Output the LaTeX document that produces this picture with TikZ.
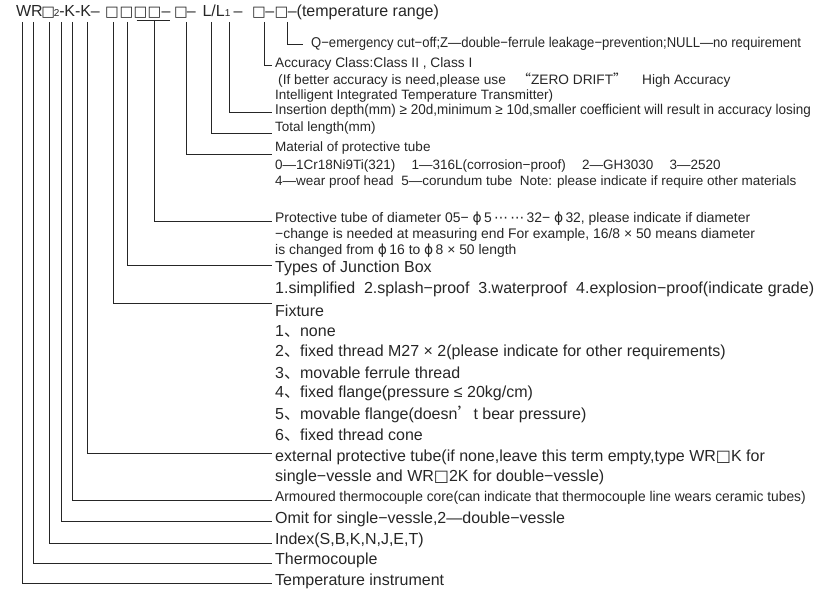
\documentclass[tikz,border=0pt]{standalone}
\usepackage{fontspec}
\setmainfont{Liberation Sans}
\newfontfamily\narrowfont[FakeStretch=0.92]{Liberation Sans}
\newfontfamily\insfont[FakeStretch=0.95]{Liberation Sans}
\newfontfamily\semifont[FakeStretch=0.97]{Liberation Sans}
\newfontfamily\symfont{DejaVu Sans}
\newfontfamily\cjk{Noto Sans CJK SC}
\usetikzlibrary{positioning}

\newcommand{\bigsz}{\fontsize{16}{20}\selectfont}
\newcommand{\smallsz}{\fontsize{13.5}{16}\selectfont}
\newcommand{\accsz}{\fontsize{13.7}{16}\selectfont}
\newcommand{\diasz}{\fontsize{13.9}{16}\selectfont}
\newcommand{\midsz}{\fontsize{14.2}{17}\selectfont}
\newcommand{\subsz}{\fontsize{10}{10}\selectfont}
\newcommand{\wsq}{{\symfont □}}
\newcommand{\topsq}{{\symfont\fontsize{14.5}{14}\selectfont □}}
\newcommand{\dun}{{\cjk 、}}
\newcommand{\mphi}{{\symfont ϕ}}
\newcommand{\gap}{\hspace{1.2em}}

\tikzset{
  tok/.style={anchor=base, inner sep=0pt, font=\bigsz, text=black!85},
  subtok/.style={anchor=base, inner sep=0pt, font=\subsz, text=black!85},
  big/.style={anchor=west, inner xsep=3pt, inner ysep=0pt, font=\bigsz, text=black!85},
  small/.style={anchor=west, inner xsep=3pt, inner ysep=0pt, font=\smallsz, text=black!85},
  narrow/.style={anchor=west, inner xsep=3pt, inner ysep=0pt, font=\narrowfont\midsz, text=black!85},
  semi/.style={anchor=west, inner xsep=3pt, inner ysep=0pt, font=\semifont\midsz, text=black!85},
  lead/.style={line width=0.9pt, draw=black!85},
}

\begin{document}
\begin{tikzpicture}[x=1pt,y=-1pt]
\useasboundingbox (0,0) rectangle (832,594);

\node[tok] (W) at (23.6,17) {W};
\node[tok] (R) at (36.9,17) {R};
\node[tok] (bA) at (48.2,17) {\topsq};
\node[subtok] (s2) at (56.6,17) {2};
\node[tok] (d1) at (62,17) {-};
\node[tok] (K1) at (69.8,17) {K};
\node[tok] (d2) at (77.8,17) {-};
\node[tok] (K2) at (85.8,17) {K};
\node[tok] (d3) at (95.4,17) {–};
\node[tok] (b1) at (112,17) {\topsq};
\node[tok] (b2) at (126.5,17) {\topsq};
\node[tok] (b3) at (140.5,17) {\topsq};
\node[tok] (b4) at (154.5,17) {\topsq};
\node[tok] (d4) at (166,17) {–};
\node[tok] (b5) at (181,17) {\topsq};
\node[tok] (d5) at (191.2,17) {–};
\node[tok] (L) at (207,17) {L};
\node[tok] (sl) at (213.7,17) {/};
\node[tok] (Lb) at (220.4,17) {L};
\node[subtok] (s1) at (227.6,17) {1};
\node[tok] (d6) at (238,17) {–};
\node[tok] (b6) at (259,17) {\topsq};
\node[tok] (d7) at (269.7,17) {–};
\node[tok] (b7) at (281.5,17) {\topsq};
\node[tok, anchor=base west] (tail) at (287.6,17) {–(temperature range)};

\node[narrow] (q) at (308,44) {Q−emergency cut−off;Z—double−ferrule leakage−prevention;NULL—no requirement};
\node[small, font=\accsz] (acc) at (272,64) {Accuracy Class:Class II , Class I};
\node[small, font=\accsz] (acc2) at (275,80) {(If better accuracy is need,please use\ \ \ {\cjk “}ZERO DRIFT{\cjk ”}\ \ \ \ High Accuracy};
\node[small] (acc3) at (272,96) {Intelligent Integrated Temperature Transmitter)};
\node[small, font=\insfont\midsz] (ins) at (272,111) {Insertion depth(mm) ≥ 20d,minimum ≥ 10d,smaller coefficient will result in accuracy losing};
\node[small] (tot) at (272,128) {Total length(mm)};
\node[small] (mat) at (272,148) {Material of protective tube};
\node[small] (mat2) at (272,166) {0—1Cr18Ni9Ti(321)\gap 1—316L(corrosion−proof)\gap 2—GH3030\gap 3—2520};
\node[small] (mat3) at (272,182) {4—wear proof head\ \ 5—corundum tube\ \ Note: please indicate if require other materials};
\node[small, font=\diasz] (dia) at (272,219) {Protective tube of diameter 05− \mphi\,5\,{\symfont ⋯\,⋯}\,32− \mphi\,32, please indicate if diameter};
\node[small, font=\diasz] (dia2) at (272,235) {−change is needed at measuring end For example, 16/8 × 50 means diameter};
\node[small, font=\diasz] (dia3) at (272,251) {is changed from \mphi\,16 to \mphi\,8 × 50 length};
\node[big] (box) at (272,268) {Types of Junction Box};
\node[big] (box2) at (272,289) {1.simplified\ \ 2.splash−proof\ \ 3.waterproof\ \ 4.explosion−proof(indicate grade)};
\node[big] (fix) at (272,311) {Fixture};
\node[big] (fix1) at (272,331) {1\dun none};
\node[big] (fix2) at (272,352) {2\dun fixed thread M27 × 2(please indicate for other requirements)};
\node[big] (fix3) at (272,373) {3\dun movable ferrule thread};
\node[big] (fix4) at (272,393) {4\dun fixed flange(pressure ≤ 20kg/cm)};
\node[big] (fix5) at (272,414) {5\dun movable flange(doesn{\cjk ’}t bear pressure)};
\node[big] (fix6) at (272,435) {6\dun fixed thread cone};
\node[big] (ext) at (272,457) {external protective tube(if none,leave this term empty,type WR\wsq K for};
\node[big] (ext2) at (272,477) {single−vessle and WR\wsq 2K for double−vessle)};
\node[semi] (arm) at (272,498) {Armoured thermocouple core(can indicate that thermocouple line wears ceramic tubes)};
\node[big] (omit) at (272,519) {Omit for single−vessle,2—double−vessle};
\node[big] (idx) at (272,540) {Index(S,B,K,N,J,E,T)};
\node[big] (thc) at (272,560) {Thermocouple};
\node[big] (tmp) at (272,581) {Temperature instrument};

\coordinate (top) at (0,22);
\coordinate (ul) at (0,20);
\draw[lead] ([xshift=-1.6pt]W |- top) |- ([yshift=-2pt]tmp.west);
\draw[lead] ([xshift=-3.9pt]R |- top) |- ([yshift=-3pt]thc.west);
\draw[lead] ([xshift=0.8pt]bA |- top) |- ([yshift=-3pt]idx.west);
\draw[lead] ([xshift=4.4pt]s2 |- top) |- ([yshift=-2pt]omit.west);
\draw[lead] ([xshift=2.2pt]K1 |- top) |- ([yshift=-2pt]arm.west);
\draw[lead] ([xshift=1.2pt]K2 |- top) |- ([yshift=4pt]ext.west);
\draw[lead] ([xshift=1pt]b1 |- top) |- ([yshift=8pt]fix.west);
\draw[lead] ([xshift=0.5pt]b2 |- top) |- ([yshift=3pt]box.west);
\draw[lead] ([xshift=-4pt]b3 |- ul) -- ([xshift=15.5pt]b4 |- ul);
\draw[lead] (b4 |- ul) |- ([yshift=-2pt]dia.west);
\draw[lead] ([xshift=5pt]b5 |- top) |- ([yshift=-6pt]mat.west);
\draw[lead] ([xshift=4pt]L |- top) |- ([yshift=-5pt]tot.west);
\draw[lead] ([xshift=1.4pt]s1 |- top) |- ([yshift=-1pt]ins.west);
\draw[lead] ([xshift=5pt]b6 |- top) |- ([yshift=-1pt]acc.west);
\draw[lead] ([xshift=5.5pt]b7 |- top) |- ([xshift=-5pt]q.west);
\end{tikzpicture}
\end{document}
